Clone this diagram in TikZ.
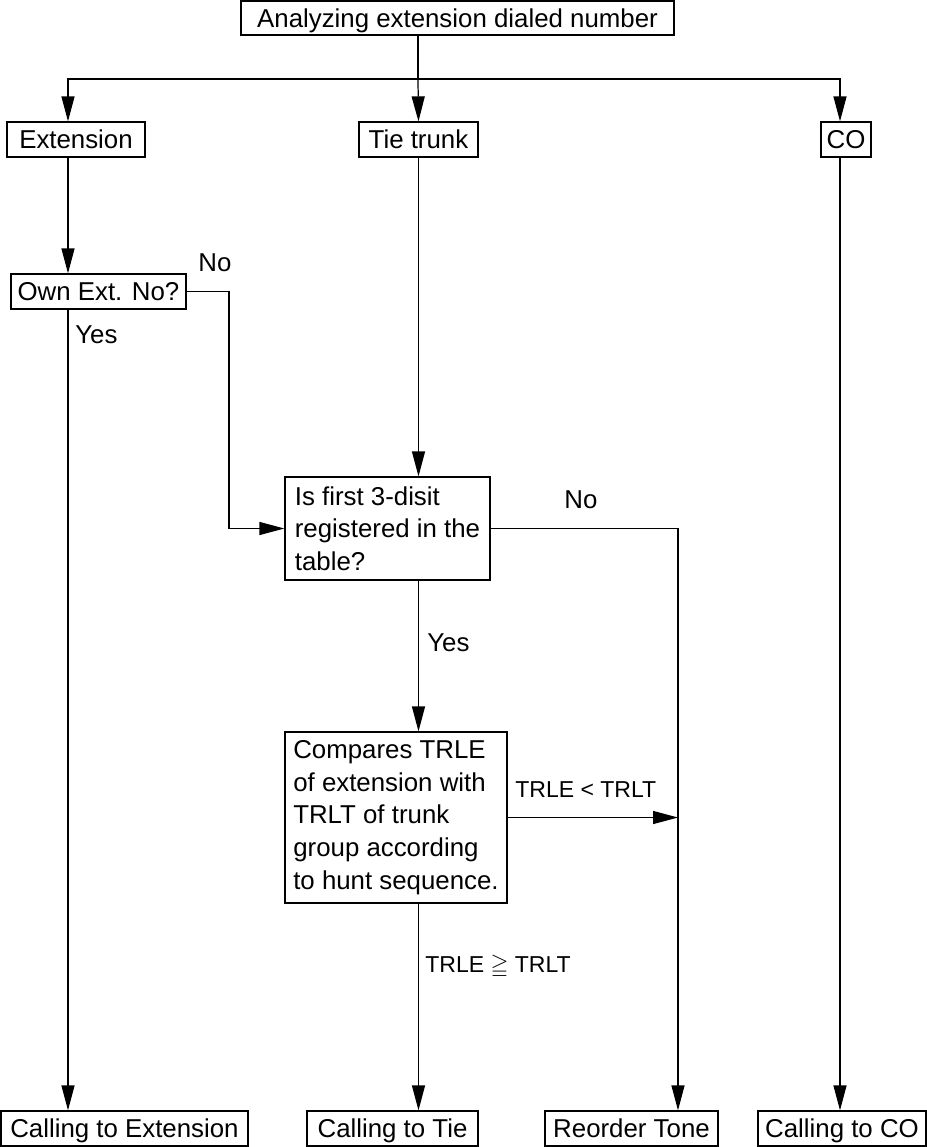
\documentclass[tikz,border=0pt]{standalone}
\usepackage{fontspec}
\setmainfont{Liberation Sans}
\usepackage{amssymb}
\usetikzlibrary{arrows.meta,positioning}
\newcommand{\boxfont}{\fontsize{14.7}{18.6}\selectfont}
\newcommand{\relfont}{\fontsize{13.1}{16}\selectfont}

\begin{document}
\begin{tikzpicture}[
  frame/.style={draw,line width=0.7pt,inner sep=0pt,font=\boxfont},
  box/.style={frame,minimum height=0.7cm,text height=12.5pt,text depth=2pt,
              align=center},
  multibox/.style={frame,align=left},
  arr/.style={-{Triangle[length=0.5cm,width=0.26cm]},line width=0.7pt},
  lbl/.style={anchor=base west,inner sep=0pt,font=\boxfont},
  rel/.style={lbl,font=\relfont},
  x=1cm, y=1cm
]
\useasboundingbox (0,0) rectangle (18.54,-22.94);

%% top: dialed number, three kinds of destination
\node[box,minimum width=8.66cm,minimum height=0.68cm] (dial) at (9.15,-0.36)
  {Analyzing extension dialed number};
\node[box,minimum width=2.76cm] (ext) at (1.52,-2.79) {Extension};
\node[box,minimum width=2.38cm] (tie) at (8.37,-2.79) {Tie trunk};
\node[box,minimum width=1.00cm] (co)  at (16.92,-2.79) {CO};

%% decisions
\node[box,minimum width=3.50cm] (own) at (1.97,-5.83) {Own Ext. No?};
\node[multibox,minimum width=4.10cm,minimum height=2.06cm] (reg) at (7.75,-10.57)
  {Is first 3-disit\\registered in the\\table?};
\node[multibox,minimum width=4.44cm,minimum height=3.42cm] (trl) at (7.92,-16.35)
  {Compares TRLE\\of extension with\\TRLT of trunk\\group according\\to hunt sequence.};

%% results (bottom row)
\node[box,minimum width=4.94cm] (callext) at (2.49,-22.57)  {Calling to Extension};
\node[box,minimum width=3.42cm] (calltie) at (7.85,-22.57)  {Calling to Tie};
\node[box,minimum width=3.46cm] (reorder) at (12.63,-22.57) {Reorder Tone};
\node[box,minimum width=3.36cm] (callco)  at (16.84,-22.57) {Calling to CO};

%% column lines and bends
\coordinate (colE)   at (1.36,0);
\coordinate (colR)   at (13.56,0);
\coordinate (colC)   at (16.80,0);
\coordinate (fork)   at (8.36,-1.58);
\coordinate (noturn) at (4.58,0);

%% fork into the three branches
\draw[line width=0.7pt] (dial.south -| fork) -- (fork);
\draw[arr] (fork) -- (tie.north);
\draw[arr] (fork) -| (ext.north -| colE);
\draw[arr] (fork) -| (co.north -| colC);

%% extension branch
\draw[arr] (ext.south -| colE) -- (own.north -| colE);
\draw[arr] (own.south -| colE) -- (callext.north -| colE);
\draw[arr] (own.east) -- (own.east -| noturn) |- (reg.west);
\node[lbl] (ownno)  at (3.96,-5.42) {No};
\node[lbl] (ownyes) at (1.50,-6.86) {Yes};

%% tie trunk branch
\draw[arr] (tie.south) -- (reg.north -| tie);
\draw[arr] (reg.south -| tie) -- (trl.north -| tie);
\draw[arr] (trl.south -| tie) -- (calltie.north -| tie);
\node[lbl] (regyes) at (8.54,-13.02) {Yes};
\node[rel] (ge) at (8.50,-19.44) {TRLE $\geqq$ TRLT};

%% not registered / lower class -> reorder tone
\draw[arr] (reg.east) -| (reorder.north -| colR);
\draw[arr] (trl.east) -- (trl.east -| colR);
\node[lbl] (regno) at (11.28,-10.16) {No};
\node[rel] (lt) at (10.30,-15.94) {TRLE < TRLT};

%% CO branch
\draw[arr] (co.south -| colC) -- (callco.north -| colC);

\end{tikzpicture}
\end{document}
